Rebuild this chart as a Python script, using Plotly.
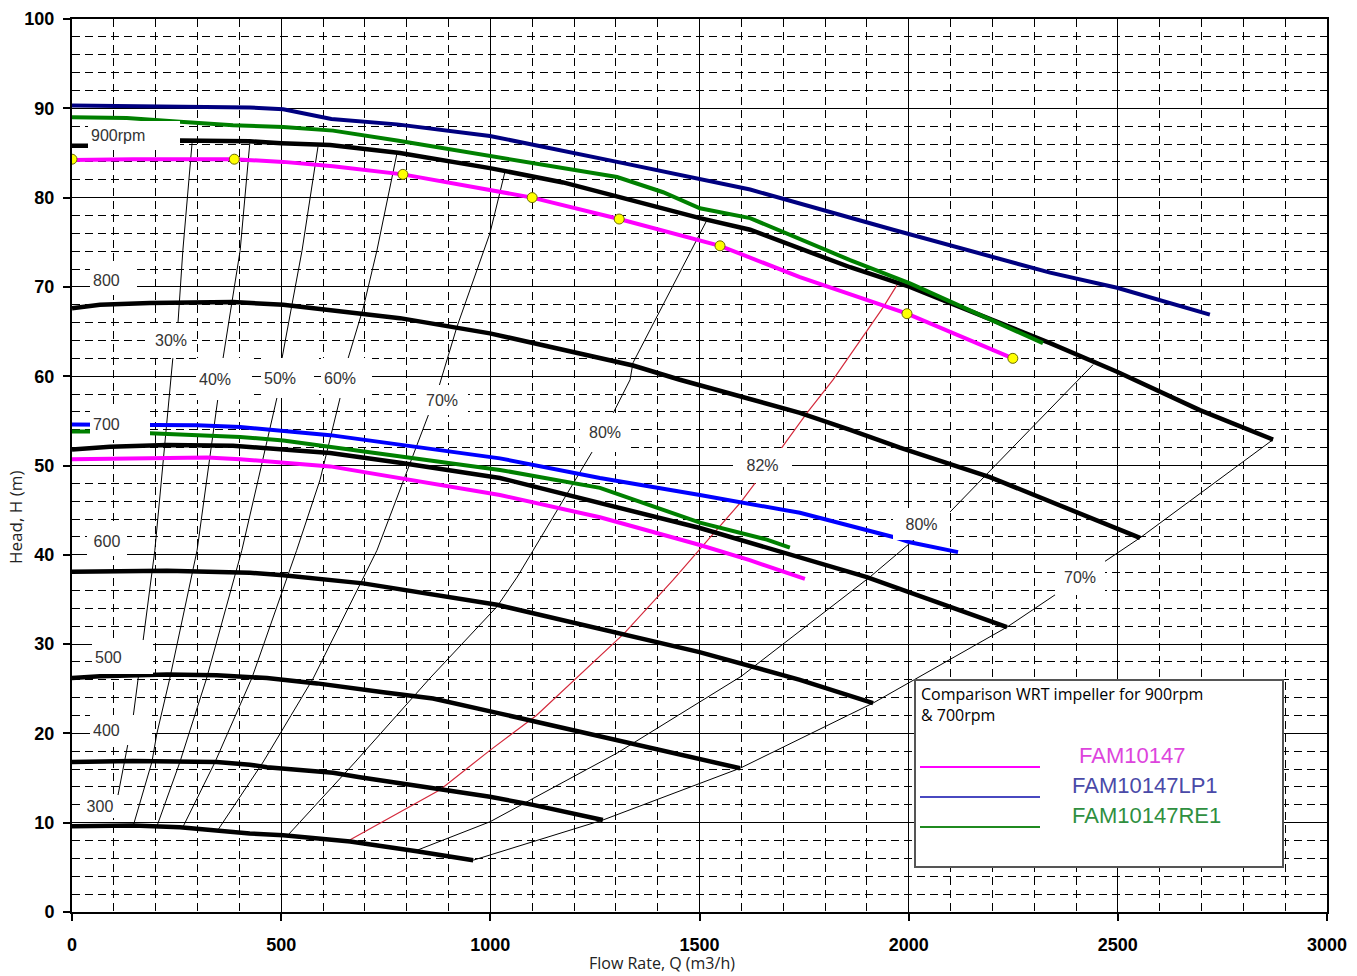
import plotly.graph_objects as go

# ---------------- DATA ----------------
# Reference impeller (black) head-flow curves at each speed: Q (m3/h), H (m)
q_900 = [0, 38, 258, 425, 500, 617, 784, 999, 1174, 1303, 1501, 1621, 1860, 2003, 2338, 2498, 2696, 2871]
h_900 = [85.8, 85.8, 86.4, 86.3, 86.1, 85.9, 85.0, 83.3, 81.7, 80.1, 77.7, 76.4, 72.2, 70.0, 63.7, 60.5, 56.2, 52.9]
q_800 = [0, 67, 186, 385, 505, 624, 784, 999, 1341, 1453, 1740, 1860, 1979, 2194, 2553]
h_800 = [67.6, 68.0, 68.2, 68.3, 68.0, 67.4, 66.5, 64.8, 61.2, 59.6, 55.9, 54.0, 52.0, 48.7, 41.9]
q_700 = [0, 91, 227, 385, 505, 617, 784, 1023, 1501, 1700, 1900, 2235]
h_700 = [51.8, 52.1, 52.3, 52.2, 51.8, 51.4, 50.3, 48.6, 43.0, 40.2, 37.5, 31.9]
q_600 = [0, 67, 227, 425, 505, 696, 824, 1016, 1500, 1740, 1915]
h_600 = [38.1, 38.1, 38.2, 38.0, 37.7, 36.8, 35.8, 34.4, 29.1, 26.0, 23.4]
q_500 = [0, 67, 227, 346, 466, 586, 744, 863, 1016, 1300, 1413, 1597]
h_500 = [26.2, 26.4, 26.6, 26.5, 26.2, 25.6, 24.6, 23.9, 22.3, 19.3, 18.1, 16.1]
q_400 = [0, 146, 346, 425, 466, 624, 688, 824, 872, 999, 1102, 1269]
h_400 = [16.8, 16.9, 16.8, 16.5, 16.2, 15.6, 15.1, 14.2, 13.8, 12.9, 12.0, 10.3]
q_300 = [0, 146, 258, 425, 505, 665, 824, 904, 959]
h_300 = [9.6, 9.7, 9.5, 8.8, 8.6, 7.9, 6.8, 6.2, 5.8]

# Compared impellers at 900 rpm
q_fam_900 = [0, 146, 388, 505, 624, 791, 1100, 1308, 1549, 1740, 1996, 2249]
h_fam_900 = [84.2, 84.3, 84.3, 84.0, 83.5, 82.6, 80.0, 77.6, 74.6, 71.1, 67.0, 62.0]
q_fam_pts = [0, 388, 791, 1100, 1308, 1549, 1996, 2249]
h_fam_pts = [84.3, 84.3, 82.6, 80.0, 77.6, 74.6, 67.0, 62.0]
q_lp1_900 = [0, 227, 425, 505, 620, 777, 999, 1303, 1501, 1621, 1963, 2338, 2498, 2720]
h_lp1_900 = [90.3, 90.2, 90.1, 89.9, 88.8, 88.2, 86.9, 84.0, 82.0, 80.9, 76.4, 71.6, 69.9, 66.9]
q_re1_900 = [0, 131, 258, 385, 505, 624, 777, 999, 1174, 1303, 1413, 1501, 1621, 1860, 2003, 2321]
h_re1_900 = [89.0, 88.9, 88.5, 88.1, 87.9, 87.5, 86.4, 84.7, 83.4, 82.3, 80.6, 78.8, 77.7, 73.0, 70.4, 63.7]

# Compared impellers at 700 rpm
q_fam_700 = [0, 108, 323, 402, 521, 617, 1023, 1262, 1501, 1620, 1752]
h_fam_700 = [50.7, 50.8, 50.9, 50.7, 50.3, 49.9, 46.7, 44.2, 41.1, 39.4, 37.3]
q_lp1_700 = [0, 43, 186, 299, 402, 505, 617, 1023, 1262, 1501, 1740, 1963, 2003, 2118]
h_lp1_700 = [54.6, 54.6, 54.6, 54.5, 54.3, 53.9, 53.4, 50.8, 48.6, 46.7, 44.7, 42.0, 41.4, 40.3]
q_re1_700 = [0, 43, 186, 306, 402, 505, 617, 1023, 1262, 1501, 1661, 1716]
h_re1_700 = [53.8, 53.8, 53.6, 53.4, 53.2, 52.8, 52.1, 49.5, 47.5, 43.6, 41.7, 40.8]

# Iso-efficiency lines
q_eff30 = [287, 265, 253, 241, 198, 170, 158, 146, 134, 110]
h_eff30 = [86.1, 74.1, 65.7, 62.0, 40.5, 30.2, 26.2, 21.8, 18.9, 13.1]
q_eff40 = [425, 402, 361, 349, 299, 234, 203, 191, 146]
h_eff40 = [86.1, 74.1, 62.0, 57.6, 40.5, 26.2, 20.0, 16.8, 9.6]
q_eff50 = [588, 550, 502, 490, 445, 406, 322, 258, 203]
h_eff50 = [85.7, 74.1, 62.0, 57.6, 48.4, 40.5, 26.2, 16.8, 9.6]
q_eff60 = [777, 729, 696, 660, 641, 593, 537, 430, 342, 266]
h_eff60 = [85.0, 74.1, 67.6, 62.0, 57.6, 48.4, 40.5, 26.2, 16.8, 9.6]
q_eff70 = [1035, 999, 920, 875, 729, 577, 457, 349]
h_eff70 = [82.9, 76.0, 65.5, 58.5, 40.5, 26.2, 16.8, 9.2]
q_eff80 = [1518, 1341, 1334, 1294, 1243, 1064, 1016, 856, 677, 516]
h_eff80 = [77.5, 61.5, 59.6, 55.9, 51.5, 37.5, 34.2, 26.2, 16.8, 8.6]
q_eff82 = [1972, 1939, 1819, 1757, 1692, 1597, 1437, 1320, 1110, 999, 880, 665]
h_eff82 = [70.2, 67.7, 59.6, 55.9, 51.7, 45.8, 37.2, 31.2, 22.0, 18.1, 13.7, 8.1]
q_eff80r = [2441, 2099, 2003, 1907, 1600, 1303, 999, 824]
h_eff80r = [61.3, 44.8, 41.3, 37.5, 26.4, 17.8, 10.1, 6.9]
q_eff70r = [2871, 2553, 2235, 1915, 1597, 1269, 959]
h_eff70r = [52.9, 41.9, 31.9, 23.4, 16.1, 10.3, 5.8]

series_names = ["FAM10147", "FAM10147LP1", "FAM10147RE1"]
x_ticks = [0, 500, 1000, 1500, 2000, 2500, 3000]
y_ticks = [0, 10, 20, 30, 40, 50, 60, 70, 80, 90, 100]

# ---------------- STYLE ----------------
W, H = 1357, 976
L, R, T, B = 72, 30, 19, 64
PW, PH = W - L - R, H - T - B

def px(xp):
    return (xp - L) / PW

def py(yp):
    return (T + PH - yp) / PH

MAGENTA = "#ff00ff"
NAVY = "#000080"
BLUE = "#0000ff"
GREEN = "#008000"

fig = go.Figure()

def line(q, h, color, width, name=None):
    fig.add_trace(go.Scatter(x=q, y=h, mode="lines", name=name or "",
                             line=dict(color=color, width=width),
                             showlegend=False, hoverinfo="skip"))

# efficiency lines (thin)
for q, h in [(q_eff30, h_eff30), (q_eff40, h_eff40), (q_eff50, h_eff50), (q_eff60, h_eff60),
             (q_eff70, h_eff70), (q_eff80, h_eff80), (q_eff80r, h_eff80r), (q_eff70r, h_eff70r)]:
    line(q, h, "black", 1)
line(q_eff82, h_eff82, "#d42a3c", 1.2)

# reference impeller curves
for q, h in [(q_900, h_900), (q_800, h_800), (q_700, h_700), (q_600, h_600),
             (q_500, h_500), (q_400, h_400), (q_300, h_300)]:
    line(q, h, "black", 4.5)

# compared impellers
line(q_lp1_900, h_lp1_900, NAVY, 4, series_names[1])
line(q_re1_900, h_re1_900, GREEN, 4, series_names[2])
line(q_fam_900, h_fam_900, MAGENTA, 4, series_names[0])
line(q_lp1_700, h_lp1_700, BLUE, 4, series_names[1])
line(q_re1_700, h_re1_700, GREEN, 4, series_names[2])
line(q_fam_700, h_fam_700, MAGENTA, 4, series_names[0])
fig.add_trace(go.Scatter(x=q_fam_pts, y=h_fam_pts, mode="markers", showlegend=False,
                         hoverinfo="skip",
                         marker=dict(size=10, color="#ffff00", line=dict(color="#6b6b00", width=1))))

annotations = []
# white-boxed in-plot labels: text, left, right, top, bottom (reference pixels), align
labels = [
    ("900rpm", 88, 180, 121, 150, "left"),
    ("800", 90, 137, 265, 295, "left"),
    ("700", 90, 150, 408, 440, "left"),
    ("600", 87, 127, 526, 556, "center"),
    ("500", 92, 153, 640, 674, "left"),
    ("400", 90, 152, 715, 745, "left"),
    ("300", 80, 120, 795, 818, "center"),
    ("30%", 150, 192, 323, 358, "center"),
    ("40%", 196, 252, 358, 400, "left"),
    ("50%", 261, 314, 358, 398, "left"),
    ("60%", 321, 372, 358, 398, "left"),
    ("70%", 416, 468, 385, 415, "center"),
    ("80%", 580, 630, 413, 452, "center"),
    ("82%", 733, 792, 448, 483, "center"),
    ("80%", 893, 950, 508, 540, "center"),
    ("70%", 1055, 1105, 560, 595, "center"),
]
for text, x0, x1, y0, y1, al in labels:
    annotations.append(dict(
        text=text, xref="paper", yref="paper",
        x=px((x0 + x1) / 2), y=py((y0 + y1) / 2), xanchor="center", yanchor="middle",
        showarrow=False, width=x1 - x0 - 6, height=y1 - y0 - 6, borderpad=3, borderwidth=0,
        bgcolor="white", align=al,
        font=dict(family="Liberation Sans, Arial", size=16, color="#333333")))

# axis titles
annotations.append(dict(text="Flow Rate, Q (m3/h)", xref="paper", yref="paper",
                        x=px(662), y=py(963), xanchor="center", yanchor="middle", showarrow=False,
                        font=dict(family="Open Sans", size=16, color="#222222")))
annotations.append(dict(text="Head, H (m)", xref="paper", yref="paper", textangle=-90,
                        x=px(15), y=py(518), xanchor="center", yanchor="middle", showarrow=False,
                        font=dict(family="Open Sans", size=17, color="#222222")))

# custom legend box
shapes = [dict(type="rect", xref="paper", yref="paper", x0=px(915), x1=px(1283),
               y0=py(867), y1=py(680), line=dict(color="#555555", width=2),
               fillcolor="white", layer="above")]
legend_rows = [(series_names[0], MAGENTA, "#dd44dd", 767, 755, 1077),
               (series_names[1], "#4848c0", "#4a4aa8", 797, 785, 1070),
               (series_names[2], "#1f8a1f", "#2f8f3f", 827, 815, 1070)]
for name, lc, tc, ly, ty, tx in legend_rows:
    shapes.append(dict(type="line", xref="paper", yref="paper", x0=px(920), x1=px(1040),
                       y0=py(ly), y1=py(ly), line=dict(color=lc, width=2), layer="above"))
    annotations.append(dict(text=name, xref="paper", yref="paper", x=px(tx), y=py(ty),
                            xanchor="left", yanchor="middle", showarrow=False,
                            font=dict(family="Liberation Sans, Arial", size=22, color=tc)))
annotations.append(dict(text="Comparison WRT impeller for 900rpm<br>& 700rpm", xref="paper", yref="paper",
                        x=px(919), y=py(681), xanchor="left", yanchor="top", showarrow=False, align="left",
                        font=dict(family="Open Sans", size=16, color="black")))

axis_common = dict(showgrid=True, gridcolor="black", gridwidth=1.4, showline=True, linecolor="black",
                   linewidth=2, mirror=True, ticks="outside", ticklen=7, tickwidth=2, tickcolor="black",
                   zeroline=False,
                   tickfont=dict(family="Liberation Sans, Arial", size=18, color="black", weight="bold"))

fig.update_layout(
    width=W, height=H, margin=dict(l=L, r=R, t=T, b=B, autoexpand=False),
    paper_bgcolor="white", plot_bgcolor="white",
    xaxis=dict(range=[0, 3000], tickvals=x_ticks, ticklabelstandoff=8,
               minor=dict(dtick=100, tick0=0, showgrid=True, gridcolor="black", gridwidth=1.2,
                          griddash="8px,5px"), **axis_common),
    yaxis=dict(range=[0, 100], tickvals=y_ticks, ticklabelstandoff=5,
               minor=dict(dtick=2, tick0=0, showgrid=True, gridcolor="black", gridwidth=1.2,
                          griddash="8px,5px"), **axis_common),
    annotations=annotations, shapes=shapes, showlegend=False,
)

fig.write_html("out.html", config={"displayModeBar": False},
               post_script="document.body.style.margin='0';document.body.style.padding='0';")
